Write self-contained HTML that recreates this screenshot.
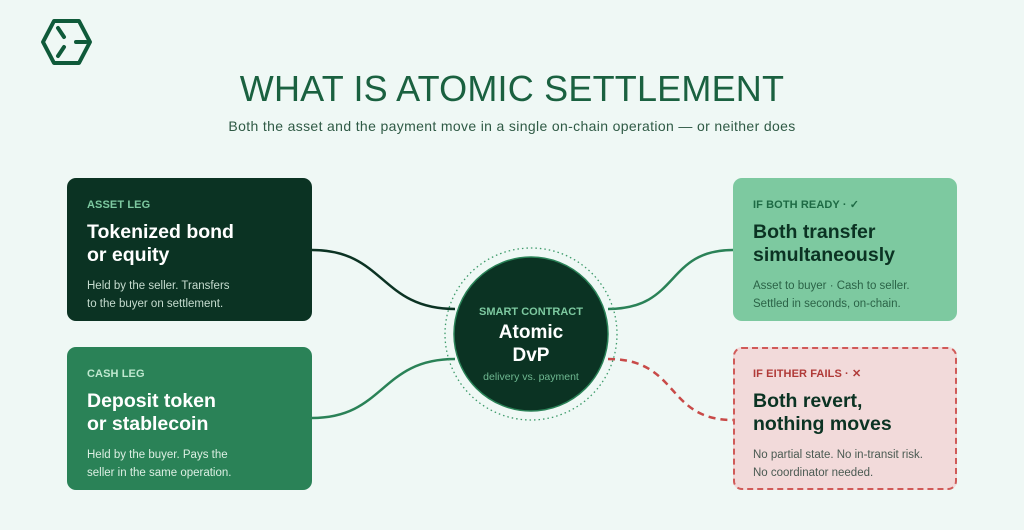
<!DOCTYPE html>
<html><head><meta charset="utf-8"><style>
*{margin:0;padding:0;box-sizing:border-box}
body{width:1024px;height:530px;background:#eff8f5;font-family:"Liberation Sans",sans-serif;position:relative;overflow:hidden}
.t{position:absolute;left:0;width:1024px;text-align:center}
.box{position:absolute;border-radius:9px;padding:20px 20px}
.lab{font-size:11px;font-weight:bold;letter-spacing:.1px;height:14px;line-height:14px}
.ttl{font-size:19.5px;font-weight:bold;line-height:23px;margin-top:9px}
.bd{font-size:11.5px;line-height:18px;margin-top:10px}
</style></head><body>
<svg width="1024" height="530" style="position:absolute;left:0;top:0">
 <g fill="none" stroke="#0f5a3a" stroke-width="4" stroke-linecap="round" stroke-linejoin="round">
  <polygon points="54,21 79,21 90,42 79,63 54,63 43,42"/>
  <path d="M58,28 L64,37 M76,42 L86,42 M58,56 L64,47"/>
 </g>
 <path d="M312,250 C385,250 380,309 455,309" stroke="#0b3323" stroke-width="2.5" fill="none"/>
 <path d="M312,418 C385,418 380,359 455,359" stroke="#2a8257" stroke-width="2.5" fill="none"/>
 <path d="M608,309 C680,309 665,250 733,250" stroke="#2a8257" stroke-width="2.5" fill="none"/>
 <path d="M608,359 C680,359 665,420 733,420" stroke="#c84a48" stroke-width="2.5" fill="none" stroke-dasharray="7,5"/>
 <circle cx="531" cy="334" r="86" fill="none" stroke="#3d9a6a" stroke-width="1.3" stroke-dasharray="1.5,3"/>
 <circle cx="531" cy="334" r="77" fill="#0b3323" stroke="#2a8257" stroke-width="1.5"/>
 <text x="531" y="315" text-anchor="middle" font-family="Liberation Sans" font-weight="bold" font-size="11" fill="#7dc9a0">SMART CONTRACT</text>
 <text x="531" y="338" text-anchor="middle" font-family="Liberation Sans" font-weight="bold" font-size="19" fill="#fff">Atomic</text>
 <text x="531" y="361" text-anchor="middle" font-family="Liberation Sans" font-weight="bold" font-size="19" fill="#fff">DvP</text>
 <text x="531" y="380" text-anchor="middle" font-family="Liberation Sans" font-size="10.5" fill="#6fb891">delivery vs. payment</text>
</svg>
<div class="t" style="top:68px;font-size:36px;color:#1a6140;letter-spacing:.2px">WHAT IS ATOMIC SETTLEMENT</div>
<div class="t" style="top:118px;font-size:14px;color:#2f5a45;letter-spacing:.35px">Both the asset and the payment move in a single on-chain operation — or neither does</div>

<div class="box" style="left:67px;top:178px;width:245px;height:143px;background:#0b3323">
 <div class="lab" style="color:#7dc9a0">ASSET LEG</div>
 <div class="ttl" style="color:#fff">Tokenized bond<br>or equity</div>
 <div class="bd" style="color:#c6dccf">Held by the seller. Transfers<br>to the buyer on settlement.</div>
</div>
<div class="box" style="left:67px;top:347px;width:245px;height:143px;background:#2a8257">
 <div class="lab" style="color:#bfe8cf">CASH LEG</div>
 <div class="ttl" style="color:#fff">Deposit token<br>or stablecoin</div>
 <div class="bd" style="color:#dcefe3">Held by the buyer. Pays the<br>seller in the same operation.</div>
</div>
<div class="box" style="left:733px;top:178px;width:224px;height:143px;background:#7dc9a0">
 <div class="lab" style="color:#1d6a44">IF BOTH READY · ✓</div>
 <div class="ttl" style="color:#0b3323">Both transfer<br>simultaneously</div>
 <div class="bd" style="color:#2b6347">Asset to buyer · Cash to seller.<br>Settled in seconds, on-chain.</div>
</div>
<div class="box" style="left:733px;top:347px;width:224px;height:143px;background:#f2dada;border:2px dashed #d05a58;padding:18px 18px">
 <div class="lab" style="color:#b03a38">IF EITHER FAILS · ✕</div>
 <div class="ttl" style="color:#0b3323">Both revert,<br>nothing moves</div>
 <div class="bd" style="color:#4a5a52">No partial state. No in-transit risk.<br>No coordinator needed.</div>
</div>
</body></html>
